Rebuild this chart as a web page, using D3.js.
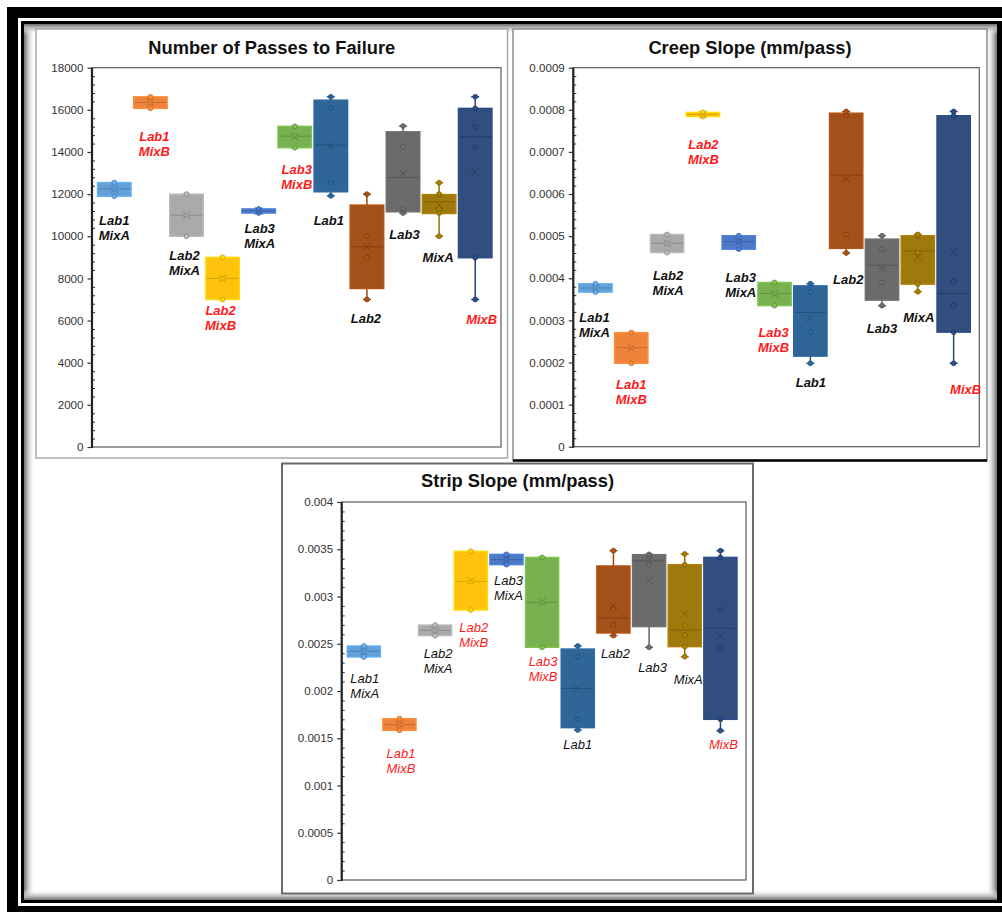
<!DOCTYPE html>
<html>
<head>
<meta charset="utf-8">
<script src="https://cdn.jsdelivr.net/npm/d3@7"></script>
<style>
  html, body { margin: 0; padding: 0; background: #fff; }
  svg { display: block; }
</style>
</head>
<body>
<svg id="fig" width="1002" height="912"></svg>
<script>
// ---------- data ----------
const categories = ["Lab1 MixA", "Lab1 MixB", "Lab2 MixA", "Lab2 MixB", "Lab3 MixA", "Lab3 MixB",
                    "Lab1", "Lab2", "Lab3", "MixA", "MixB"];

// box summaries: [whisker low, Q1, median, Q3, whisker high]
const passesBoxes = [
  [11900, 11900, 12250, 12550, 12550],
  [16070, 16070, 16350, 16620, 16620],
  [10000, 10000, 11000, 12000, 12000],
  [7000, 7000, 8000, 9000, 9000],
  [11100, 11100, 11200, 11300, 11300],
  [14200, 14200, 14750, 15220, 15220],
  [11920, 12110, 14330, 16460, 16620],
  [7000, 7520, 9500, 11480, 12000],
  [11100, 11160, 12790, 14960, 15230],
  [10000, 11080, 11640, 11980, 12540],
  [7000, 8980, 14720, 16070, 16620]
];
const passesMeans = [12230, 16360, 11000, 8000, 11200, 14720, 14290, 9500, 12980, 11480, 13030];
const passesPoints = [
  [11900, 12250, 12550],
  [16070, 16350, 16620],
  [10000, 11000, 12000],
  [7000, 8000, 9000],
  [11100, 11200, 11300],
  [14200, 14750, 15220],
  [11920, 12540, 16070, 16620],
  [7000, 9000, 10000, 12000],
  [11100, 11300, 14250, 15230],
  [10000, 11100, 11300, 11980, 12000, 12540],
  [7000, 8980, 14230, 15200, 16070, 16620]
];
const passesTicks = [0, 2000, 4000, 6000, 8000, 10000, 12000, 14000, 16000, 18000];

const creepBoxes = [
  [0.000367, 0.000367, 0.000377, 0.000387, 0.000387],
  [0.000198, 0.000198, 0.000235, 0.000271, 0.000271],
  [0.000461, 0.000461, 0.000483, 0.000504, 0.000504],
  [0.000784, 0.000784, 0.000789, 0.000794, 0.000794],
  [0.000469, 0.000469, 0.000487, 0.000501, 0.000501],
  [0.000335, 0.000335, 0.000364, 0.000390, 0.000390],
  [0.000198, 0.000215, 0.000319, 0.000382, 0.000387],
  [0.000460, 0.000471, 0.000645, 0.000792, 0.000796],
  [0.000335, 0.000348, 0.000431, 0.000493, 0.000501],
  [0.000368, 0.000386, 0.000465, 0.000501, 0.000504],
  [0.000198, 0.000272, 0.000364, 0.000786, 0.000796]
];
const creepMeans = [0.000377, 0.000234, 0.000483, 0.000789, 0.000486, 0.000363,
                    0.000306, 0.000636, 0.000423, 0.000450, 0.000462];
const creepPoints = [
  [0.000367, 0.000377, 0.000387],
  [0.000198, 0.000235, 0.000271],
  [0.000461, 0.000483, 0.000504],
  [0.000784, 0.000789, 0.000794],
  [0.000469, 0.000487, 0.000501],
  [0.000335, 0.000364, 0.000390],
  [0.000198, 0.000271, 0.000368, 0.000387],
  [0.000460, 0.000504, 0.000786, 0.000796],
  [0.000335, 0.000390, 0.000469, 0.000501],
  [0.000368, 0.000386, 0.000461, 0.000501, 0.000504],
  [0.000198, 0.000272, 0.000335, 0.000392, 0.000786, 0.000796]
];
const creepTicks = [0, 0.0001, 0.0002, 0.0003, 0.0004, 0.0005, 0.0006, 0.0007, 0.0008, 0.0009];

const stripBoxes = [
  [0.002360, 0.002360, 0.002420, 0.002476, 0.002476],
  [0.001584, 0.001584, 0.001644, 0.001707, 0.001707],
  [0.002586, 0.002586, 0.002642, 0.002698, 0.002698],
  [0.002857, 0.002857, 0.003160, 0.003478, 0.003478],
  [0.003337, 0.003337, 0.003390, 0.003446, 0.003446],
  [0.002462, 0.002462, 0.002938, 0.003414, 0.003414],
  [0.001587, 0.001612, 0.002028, 0.002444, 0.002476],
  [0.002586, 0.002614, 0.002772, 0.003323, 0.003485],
  [0.002462, 0.002681, 0.003376, 0.003443, 0.003446],
  [0.002363, 0.002469, 0.002646, 0.003337, 0.003450],
  [0.001580, 0.001700, 0.002663, 0.003414, 0.003485]
];
const stripMeans = [0.002420, 0.001645, 0.002642, 0.003165, 0.003390, 0.002945,
                    0.002028, 0.002900, 0.003168, 0.002815, 0.002586];
const stripPoints = [
  [0.002360, 0.002420, 0.002476],
  [0.001584, 0.001644, 0.001707],
  [0.002586, 0.002642, 0.002698],
  [0.002857, 0.003160, 0.003478],
  [0.003337, 0.003390, 0.003446],
  [0.002462, 0.002940, 0.003414],
  [0.001587, 0.001700, 0.002363, 0.002476],
  [0.002586, 0.002700, 0.002868, 0.003485],
  [0.002462, 0.003337, 0.003420, 0.003446],
  [0.002363, 0.002469, 0.002593, 0.002700, 0.003337, 0.003450],
  [0.001580, 0.001700, 0.002462, 0.002857, 0.003414, 0.003485]
];
const stripTicks = [0, 0.0005, 0.001, 0.0015, 0.002, 0.0025, 0.003, 0.0035, 0.004];

// ---------- styling ----------
const seriesColors = ["#5b9bd5", "#ed7d31", "#a5a5a5", "#ffc000", "#4472c4", "#70ad47",
                      "#255e91", "#9e480e", "#636363", "#997300", "#264478"];
const FONT = "'Liberation Sans', Arial, Helvetica, sans-serif";

const panels = [
  {
    title: "Number of Passes to Failure",
    boxes: passesBoxes, means: passesMeans, points: passesPoints, ticks: passesTicks,
    frame: [36, 29, 507.5, 458], plot: [92, 67.7, 501, 447], titleY: 53.5,
    frameStroke: "#a8a8a8", frameWidth: 1.5, bottomStroke: null,
    labelWeight: "bold",
    labelDx: [0, 4, -2, -2, 1, 2, -2, -1, 1.5, -1, 6.5],
    labelDy: [28.8, 32.3, 23.7, 15.5, 19.6, 26.2, 28.8, 23.2, 25.9, 26, 24.8]
  },
  {
    title: "Creep Slope (mm/pass)",
    boxes: creepBoxes, means: creepMeans, points: creepPoints, ticks: creepTicks,
    frame: [513, 29, 987, 460.5], plot: [573.3, 67.7, 979.3, 446.7], titleY: 53.5,
    frameStroke: "#8c8c8c", frameWidth: 1.5, bottomStroke: "#000",
    labelWeight: "bold",
    labelDx: [-1, 0, 1, 0.5, 2, -1, 0.5, 2, 0, 1, 12],
    labelDy: [29.5, 25.7, 27.4, 32.1, 32.5, 31.1, 23.4, 31.3, 27.7, 30, 30.7]
  },
  {
    title: "Strip Slope (mm/pass)",
    boxes: stripBoxes, means: stripMeans, points: stripPoints, ticks: stripTicks,
    frame: [282, 463.5, 753, 893.5], plot: [341.7, 502, 746, 880], titleY: 487,
    frameStroke: "#6a6a6a", frameWidth: 2, bottomStroke: null,
    labelWeight: "normal",
    labelDx: [1, 1.5, 3, 3, 2, 1, 0, 2, 3.5, 3.5, 3],
    labelDy: [25.7, 28, 22.1, 22.3, 20.3, 18.4, 19.3, 22.1, 24.4, 27.3, 18.6]
  }
];

// ---------- page frame ----------
const svg = d3.select("#fig");
const W = 1002, H = 912;
svg.append("rect").attr("width", W).attr("height", H).attr("fill", "#fff");
// double border: thick outer line, thin inner line
svg.append("rect").attr("x", 7).attr("y", 7).attr("width", 1020).attr("height", 910).attr("fill", "#000");
svg.append("rect").attr("x", 18).attr("y", 18).attr("width", 1010).attr("height", 888).attr("fill", "#fff");
svg.append("rect").attr("x", 21).attr("y", 21).attr("width", 1010).attr("height", 882).attr("fill", "#000");
svg.append("rect").attr("x", 24).attr("y", 24).attr("width", 973).attr("height", 876).attr("fill", "#fff");

// soft inner shadow along the inner border
const defs = svg.append("defs");
function shade(id, x1, y1, x2, y2) {
  const g = defs.append("linearGradient").attr("id", id)
    .attr("x1", x1).attr("y1", y1).attr("x2", x2).attr("y2", y2);
  g.append("stop").attr("offset", "0%").attr("stop-color", "#6e6e6e");
  g.append("stop").attr("offset", "30%").attr("stop-color", "#b4b4b4");
  g.append("stop").attr("offset", "100%").attr("stop-color", "#ffffff").attr("stop-opacity", 0);
}
shade("shL", "0", "0", "1", "0");
shade("shR", "1", "0", "0", "0");
shade("shT", "0", "0", "0", "1");
shade("shB", "0", "1", "0", "0");
const sw = 11;
svg.append("rect").attr("x", 24).attr("y", 24).attr("width", sw).attr("height", 876).attr("fill", "url(#shL)");
svg.append("rect").attr("x", 997 - sw).attr("y", 24).attr("width", sw).attr("height", 876).attr("fill", "url(#shR)");
svg.append("rect").attr("x", 24).attr("y", 24).attr("width", 973).attr("height", sw).attr("fill", "url(#shT)");
svg.append("rect").attr("x", 24).attr("y", 900 - sw).attr("width", 973).attr("height", sw).attr("fill", "url(#shB)");

// ---------- tick label formatting ----------
function fmtTick(v) {
  return String(+v.toPrecision(6));
}

// ---------- one box-plot panel ----------
function drawPanel(p) {
  const g = svg.append("g");
  const [fx0, fy0, fx1, fy1] = p.frame;
  const [px0, py0, px1, py1] = p.plot;

  g.append("rect")
    .attr("x", fx0).attr("y", fy0).attr("width", fx1 - fx0).attr("height", fy1 - fy0)
    .attr("fill", "#fff").attr("stroke", p.frameStroke).attr("stroke-width", p.frameWidth);
  if (p.bottomStroke) {
    g.append("line").attr("x1", fx0).attr("x2", fx1).attr("y1", fy1).attr("y2", fy1)
      .attr("stroke", p.bottomStroke).attr("stroke-width", 2.5);
  }

  g.append("text")
    .attr("x", (fx0 + fx1) / 2).attr("y", p.titleY)
    .attr("text-anchor", "middle")
    .attr("font-family", FONT).attr("font-size", "18.3px").attr("font-weight", "bold")
    .attr("fill", "#111")
    .text(p.title);

  const x = d3.scaleBand().domain(categories)
    .range([px0 + 5.5, px1 - 9]).paddingInner(0.07);
  const yMax = p.ticks[p.ticks.length - 1];
  const y = d3.scaleLinear().domain([0, yMax]).range([py1, py0]);

  // plot area outline
  g.append("rect")
    .attr("x", px0).attr("y", py0).attr("width", px1 - px0).attr("height", py1 - py0)
    .attr("fill", "none").attr("stroke", "#5a5a5a").attr("stroke-width", 1.2);

  // minor ticks: four between each pair of major ticks, pointing inward
  const minor = [];
  for (let i = 0; i < p.ticks.length - 1; i++) {
    const a = p.ticks[i], b = p.ticks[i + 1];
    for (let k = 1; k < 5; k++) minor.push(a + (b - a) * k / 5);
  }
  const minorAxis = g.append("g").attr("transform", `translate(${px0},0)`)
    .call(d3.axisRight(y).tickValues(minor).tickSize(3).tickFormat(""));
  minorAxis.select(".domain").remove();
  minorAxis.selectAll("line").attr("stroke", "#333").attr("stroke-width", 1);

  const axis = g.append("g").attr("transform", `translate(${px0},0)`)
    .call(d3.axisLeft(y).tickValues(p.ticks).tickSize(4.5).tickPadding(4).tickFormat(fmtTick));
  axis.select(".domain").attr("stroke", "#222").attr("stroke-width", 2.2)
    .attr("d", `M0,${py1 + 1}V${py0}`);
  axis.selectAll(".tick line").attr("stroke", "#333").attr("stroke-width", 1.2);
  axis.selectAll(".tick text")
    .attr("font-family", FONT).attr("font-size", "11.6px").attr("fill", "#333");

  const bw = x.bandwidth();
  categories.forEach((cat, i) => {
    const c = seriesColors[i];
    const [lo, q1, med, q3, hi] = p.boxes[i];
    const x0 = x(cat), cx = x0 + bw / 2;
    const dark = d3.color(c).darker(0.6).formatHex();
    const light = d3.color(c).brighter(0.35).formatHex();
    const s = g.append("g");

    // whiskers with end caps
    s.append("line").attr("x1", cx).attr("x2", cx).attr("y1", y(hi)).attr("y2", y(q3))
      .attr("stroke", c).attr("stroke-width", 1.5);
    s.append("line").attr("x1", cx).attr("x2", cx).attr("y1", y(q1)).attr("y2", y(lo))
      .attr("stroke", c).attr("stroke-width", 1.5);
    [lo, hi].forEach(v => {
      s.append("line").attr("x1", cx - 4).attr("x2", cx + 4).attr("y1", y(v)).attr("y2", y(v))
        .attr("stroke", c).attr("stroke-width", 1.5);
    });

    // interquartile box
    s.append("rect")
      .attr("x", x0).attr("y", y(q3)).attr("width", bw).attr("height", Math.max(y(q1) - y(q3), 1))
      .attr("fill", c).attr("fill-opacity", 0.95)
      .attr("stroke", light).attr("stroke-width", 1.4);

    // median line
    s.append("line").attr("x1", x0 + 0.7).attr("x2", x0 + bw - 0.7).attr("y1", y(med)).attr("y2", y(med))
      .attr("stroke", dark).attr("stroke-width", 1).attr("stroke-opacity", 0.8);

    // individual results
    s.selectAll("circle").data(p.points[i]).join("circle")
      .attr("cx", cx).attr("cy", d => y(d)).attr("r", 2.4)
      .attr("fill", light).attr("stroke", dark).attr("stroke-width", 0.9).attr("stroke-opacity", 0.85);

    // mean marker
    const my = y(p.means[i]), m = 4;
    s.append("path")
      .attr("d", `M${cx - m},${my - m}L${cx + m},${my + m}M${cx - m},${my + m}L${cx + m},${my - m}`)
      .attr("stroke", dark).attr("stroke-width", 1).attr("stroke-opacity", 0.85).attr("fill", "none");

    // category label below the lower whisker
    const lines = cat.split(" ");
    const isB = cat.indexOf("MixB") >= 0;
    const t = g.append("text")
      .attr("x", cx + p.labelDx[i]).attr("y", y(lo) + p.labelDy[i])
      .attr("text-anchor", "middle")
      .attr("font-family", FONT).attr("font-size", "13px")
      .attr("font-style", "italic").attr("font-weight", p.labelWeight)
      .attr("fill", isB ? "#ff1a1a" : "#111");
    lines.forEach((ln, k) => {
      t.append("tspan").attr("x", cx + p.labelDx[i]).attr("dy", k === 0 ? 0 : 15).text(ln);
    });
  });
}

panels.forEach(drawPanel);
</script>
</body>
</html>
